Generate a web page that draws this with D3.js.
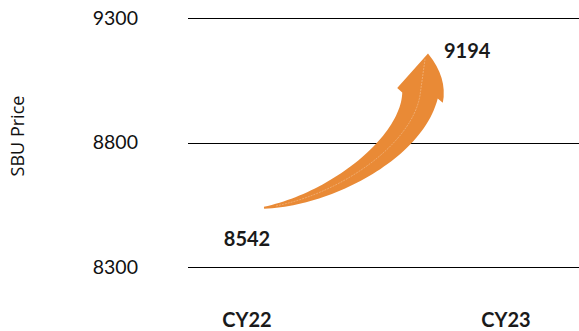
<!DOCTYPE html>
<html>
<head>
<meta charset="utf-8">
<script src="https://cdn.jsdelivr.net/npm/d3@7"></script>
<style>
  body { margin: 0; background: #fff; }
  svg { display: block; font-family: Lato, "Noto Sans", sans-serif; }
</style>
</head>
<body>
<div id="chart"></div>
<script>
const width = 579;
const height = 331;

// data
const years = ["CY22", "CY23"];
const prices = [8542, 9194];
const yTicks = [8300, 8800, 9300];
const yTitle = "SBU Price";

const svg = d3.select("#chart")
  .append("svg")
  .attr("width", width)
  .attr("height", height);

const x = d3.scalePoint().domain(years).range([247, 506]);
const y = d3.scaleLinear().domain([8300, 9300]).range([267, 18]);

// gridlines
svg.append("g")
  .selectAll("line")
  .data(yTicks)
  .enter()
  .append("line")
  .attr("x1", 188)
  .attr("x2", width)
  .attr("y1", d => Math.round(y(d)) + 0.5)
  .attr("y2", d => Math.round(y(d)) + 0.5)
  .attr("stroke", "#000")
  .attr("stroke-width", 1);

// tick labels
svg.append("g")
  .selectAll("text")
  .data(yTicks)
  .enter()
  .append("text")
  .attr("x", 138)
  .attr("y", d => y(d) + 6.8)
  .attr("text-anchor", "end")
  .attr("font-size", 19.5)
  .attr("fill", "#111")
  .text(d => d);

// y title
svg.append("text")
  .attr("transform", "translate(24,136) rotate(-90)")
  .attr("text-anchor", "middle")
  .attr("font-family", "'Open Sans', sans-serif")
  .attr("font-size", 18)
  .attr("fill", "#111")
  .text(yTitle);

// x labels
svg.append("g")
  .selectAll("text")
  .data(years)
  .enter()
  .append("text")
  .attr("x", d => x(d))
  .attr("y", 327)
  .attr("text-anchor", "middle")
  .attr("font-size", 20)
  .attr("font-weight", 700)
  .attr("fill", "#1a1a1a")
  .text(d => d);

// curved arrow from first to last value
const tail = [x(years[0]) + 17, y(prices[0]) + 1];
const tip = [x(years[1]) - 78, y(prices[1]) + 9];
const B = [tip[0] - 8, tip[1] + 42];       // head base centre
const P1 = [tail[0] + 66, tail[1] - 8];
const P2 = [B[0] - 9, B[1] + 53];

function bez(t) {
  const a = (1 - t) ** 3, b = 3 * t * (1 - t) ** 2, c = 3 * t * t * (1 - t), e = t ** 3;
  return [a * tail[0] + b * P1[0] + c * P2[0] + e * B[0],
          a * tail[1] + b * P1[1] + c * P2[1] + e * B[1]];
}
function tangent(t) {
  const dx = 3 * (1 - t) ** 2 * (P1[0] - tail[0]) + 6 * t * (1 - t) * (P2[0] - P1[0]) + 3 * t * t * (B[0] - P2[0]);
  const dy = 3 * (1 - t) ** 2 * (P1[1] - tail[1]) + 6 * t * (1 - t) * (P2[1] - P1[1]) + 3 * t * t * (B[1] - P2[1]);
  const l = Math.hypot(dx, dy);
  return [dx / l, dy / l];
}

const n = 50;
const upper = [], lower = [], center = [];
for (let i = 0; i <= n; i++) {
  const t = i / n;
  const p = bez(t), tg = tangent(t);
  const nx = -tg[1], ny = tg[0]; // normal pointing down-right
  const w = (2 + 34 * t) / 2;
  upper.push([p[0] - nx * w, p[1] - ny * w]);
  lower.push([p[0] + nx * w, p[1] + ny * w]);
  center.push(p);
}
const nB = [0.95, 0.31];
const headHalf = 24;
const barbL = [B[0] - nB[0] * headHalf, B[1] - nB[1] * headHalf];
const barbR = [B[0] + nB[0] * headHalf, B[1] + nB[1] * headHalf];

const p = d3.path();
p.moveTo(upper[0][0], upper[0][1]);
upper.forEach(q => p.lineTo(q[0], q[1]));
p.lineTo(barbL[0], barbL[1]);
p.lineTo(tip[0], tip[1]);
p.quadraticCurveTo(barbR[0] + 5, barbR[1] - 25, barbR[0], barbR[1]);
lower.slice().reverse().forEach(q => p.lineTo(q[0], q[1]));
p.closePath();

svg.append("path")
  .attr("d", p.toString())
  .attr("fill", "#e98a36");

const line = d3.line();
svg.append("path")
  .attr("d", line(center.slice(3).concat([[tip[0] - 3, tip[1] + 6]])))
  .attr("fill", "none")
  .attr("stroke", "#fff")
  .attr("stroke-opacity", 0.45)
  .attr("stroke-width", 0.6)
  .attr("stroke-dasharray", "2,1");

// value labels
svg.append("text")
  .attr("x", x(years[0]))
  .attr("y", y(prices[0]) + 39)
  .attr("text-anchor", "middle")
  .attr("font-size", 20)
  .attr("font-weight", 700)
  .attr("fill", "#1a1a1a")
  .text(prices[0]);

svg.append("text")
  .attr("x", x(years[1]) - 62)
  .attr("y", y(prices[1]) + 14)
  .attr("font-size", 20)
  .attr("font-weight", 700)
  .attr("fill", "#1a1a1a")
  .text(prices[1]);
</script>
</body>
</html>
